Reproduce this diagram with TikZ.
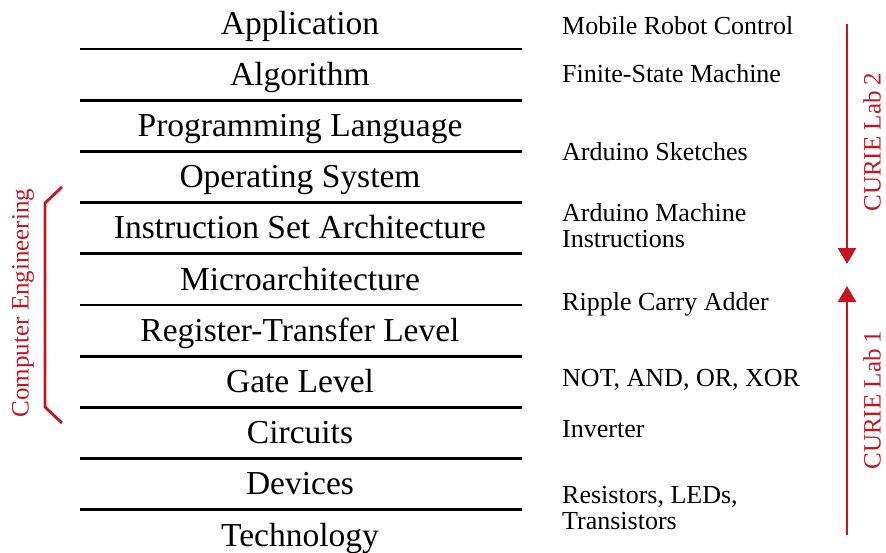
\documentclass[tikz,border=0pt]{standalone}
\usepackage{fontspec}
\setmainfont{Liberation Serif}
\usepackage{tikz}
\usetikzlibrary{positioning}
\usetikzlibrary{arrows.meta}
\definecolor{curiered}{RGB}{196,22,32}

\begin{document}
\begin{tikzpicture}[x=1pt,y=-1pt,node distance=51.2pt,on grid,
      layer/.style={inner sep=0pt, font=\fontsize{33.5}{36}\selectfont, text height=22pt, text depth=7pt},
      note/.style={inner sep=0pt, anchor=base west, align=left, font=\fontsize{26}{25.5}\selectfont},
      sep/.style={line width=2.8pt},
      lab/.style={draw=curiered, line width=2.8pt},
      side/.style={inner sep=0pt, text=curiered, rotate=90, font=\fontsize{25}{26}\selectfont}]

      \useasboundingbox (0,0) rectangle (886,552);

      % layers of abstraction
      \node[layer] (app) at (300,26.5) {Application};
      \node[layer] (alg) [below=of app] {Algorithm};
      \node[layer] (lang) [below=of alg] {Programming Language};
      \node[layer] (os) [below=of lang] {Operating System};
      \node[layer] (isa) [below=of os] {Instruction Set Architecture};
      \node[layer] (uarch) [below=of isa] {Microarchitecture};
      \node[layer] (rtl) [below=of uarch] {Register-Transfer Level};
      \node[layer] (gate) [below=of rtl] {Gate Level};
      \node[layer] (circ) [below=of gate] {Circuits};
      \node[layer] (dev) [below=of circ] {Devices};
      \node[layer] (tech) [below=of dev] {Technology};

      \foreach \k in {0,...,9}
        \draw[sep] (80,49+51.2*\k) -- (522,49+51.2*\k);

      % examples from the labs
      \node[note] (n_app) at (562,34) {Mobile Robot Control};
      \node[note] (n_alg) at (562,82) {Finite-State Machine};
      \node[note] (n_os) at (562,160) {Arduino Sketches};
      \node[note] (n_isa) at (562,247) {Arduino Machine\\Instructions};
      \node[note] (n_rtl) at (562,310) {Ripple Carry Adder};
      \node[note] (n_gate) at (562,386) {NOT, AND, OR, XOR};
      \node[note] (n_circ) at (562,437) {Inverter};
      \node[note] (n_dev) at (562,529) {Resistors, LEDs,\\Transistors};

      % lab ranges
      \coordinate (lab2a) at (847,24);
      \coordinate (lab2b) at (847,264);
      \coordinate (lab1a) at (847,535);
      \coordinate (lab1b) at (847,286);
      \draw[lab, -{Triangle[length=16pt,width=18pt]}] (lab2a) -- (lab2b);
      \draw[lab, -{Triangle[length=16pt,width=18pt]}] (lab1a) -- (lab1b);
      \node[side] (lab2) at (872,142) {CURIE Lab 2};
      \node[side] (lab1) at (872,400) {CURIE Lab 1};

      % computer engineering bracket
      \draw[lab] (62,187) -- (45,203) -- (45,407) -- (62,423);
      \node[side] (ce) at (23,303) {Computer Engineering};

\end{tikzpicture}
\end{document}
